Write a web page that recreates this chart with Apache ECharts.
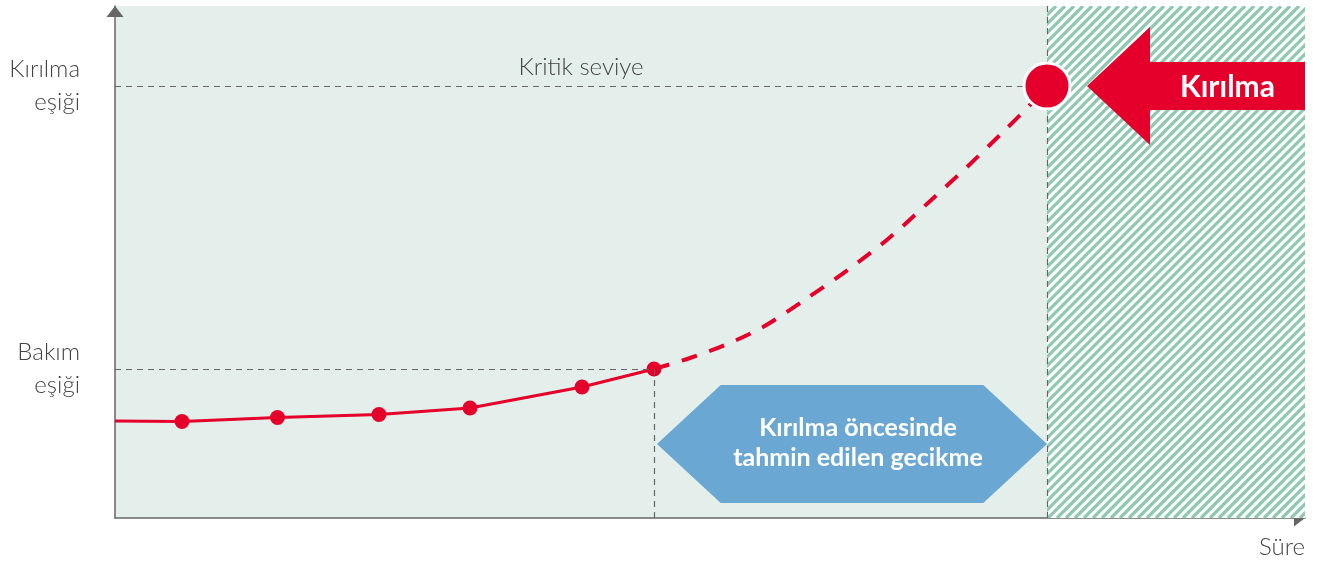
<!DOCTYPE html>
<html><head><meta charset="utf-8">
<script src="https://cdn.jsdelivr.net/npm/echarts@6/dist/echarts.min.js"></script>
<style>html,body{margin:0;padding:0;background:#fff}#c{width:1329px;height:562px}</style>
</head><body><div id="c"></div>
<script>
// ---- data ----
const xRange = [0, 119];
const yRange = [0, 102.4];
const measuredX = [0, 6.7, 16.25, 26.4, 35.5, 46.7, 53.9];
const measuredY = [19.4, 19.3, 20.1, 20.7, 22.0, 26.2, 29.8];
const forecastX = [53.9, 57.5, 61.0, 64.8, 69.1, 73.4, 77.3, 81.3, 85.2, 88.7, 91.5, 93.2];
const forecastY = [29.8, 32.0, 34.6, 38.2, 43.8, 49.8, 55.8, 63.0, 70.2, 77.0, 82.6, 86.4];
const thresholdValues = [29.8, 86.4];
const thresholdLabels = ['Bakım\neşiği', 'Kırılma\neşiği'];
const maintenanceTime = 53.9;
const failureTime = 93.2;
const criticalLabel = 'Kritik seviye';
const xAxisLabel = 'Süre';
const failureZone = [93.2, 119];                 // xStart, xEnd
const delayBox = [54.2, 93.2, 3, 26.6];          // xStart, xEnd, yBottom, yTop
const delayText = 'Kırılma öncesinde\ntahmin edilen gecikme';
const failureArrow = [97.2, 119, 86.4];          // tip x, end x, y
const failureText = 'Kırılma';

// ---- styles ----
const RED = '#e4002b';
const GRAY = '#666';
const TXT = '#444';
const LIGHT_FONT = 'Lato';
const LIGHT_SIZE = 24;

const chart = echarts.init(document.getElementById('c'));
const dashed = { color: GRAY, type: [6, 5], width: 1.2 };

chart.setOption({
  animation: false,
  grid: { left: 115, right: 24, top: 6, bottom: 44, show: true, backgroundColor: '#e4efeb', borderWidth: 0 },
  xAxis: {
    type: 'value', min: xRange[0], max: xRange[1],
    splitLine: { show: false }, axisTick: { show: false },
    axisLine: { show: true, lineStyle: { color: GRAY, width: 1.5 }, symbol: ['none', 'triangle'], symbolSize: [17, 11], symbolOffset: [0, -5.5] },
    axisLabel: { customValues: [xRange[1]], formatter: () => xAxisLabel, align: 'right', margin: 17,
      fontFamily: LIGHT_FONT, fontWeight: 300, fontSize: LIGHT_SIZE, color: TXT }
  },
  yAxis: {
    type: 'value', min: yRange[0], max: yRange[1],
    splitLine: { show: false }, axisTick: { show: false },
    axisLine: { show: true, lineStyle: { color: GRAY, width: 1.5 }, symbol: ['none', 'triangle'], symbolSize: [17, 11], symbolOffset: [0, -5.5] },
    axisLabel: { customValues: thresholdValues, formatter: v => thresholdLabels[thresholdValues.indexOf(v)],
      margin: 35, fontFamily: LIGHT_FONT, fontWeight: 300, fontSize: LIGHT_SIZE, lineHeight: 33, color: TXT, align: 'right' }
  },
  series: [
    { type: 'custom', z: 1, silent: true, data: [failureZone],
      renderItem: (params, api) => {
        const a = api.coord([api.value(0), yRange[1]]);
        const b = api.coord([api.value(1), yRange[0]]);
        const x0 = a[0], y0 = a[1], x1 = b[0], y1 = b[1], h = y1 - y0, step = 9;
        const kids = [{ type: 'rect', shape: { x: x0, y: y0, width: x1 - x0, height: h }, style: { fill: '#fff' } }];
        for (let s = x0 - h - step; s < x1 + step; s += step) {
          kids.push({ type: 'line', shape: { x1: s, y1: y1, x2: s + h, y2: y0 }, style: { stroke: '#8ec9b1', lineWidth: 3.3 } });
        }
        return { type: 'group', clipPath: { type: 'rect', shape: { x: x0, y: y0, width: x1 - x0, height: h } }, children: kids };
      } },
    { type: 'line', data: [], z: 2, silent: true,
      markLine: { silent: true, symbol: ['none', 'none'], lineStyle: dashed, label: { show: false },
        data: [
          [{ coord: [xRange[0], thresholdValues[1]], label: { show: true, position: 'middle', formatter: criticalLabel,
              fontFamily: LIGHT_FONT, fontWeight: 300, fontSize: LIGHT_SIZE, color: TXT, distance: 7 } },
           { coord: [failureTime, thresholdValues[1]] }],
          [{ coord: [xRange[0], thresholdValues[0]] }, { coord: [maintenanceTime, thresholdValues[0]] }],
          [{ coord: [maintenanceTime, thresholdValues[0]] }, { coord: [maintenanceTime, yRange[0]] }],
          [{ coord: [failureTime, yRange[0]] }, { coord: [failureTime, yRange[1]] }]
        ] } },
    { type: 'line', z: 3, silent: true,
      data: measuredX.map((x, i) => i === 0 ? { value: [x, measuredY[i]], symbol: 'none' } : [x, measuredY[i]]),
      symbol: 'circle', symbolSize: 15, showSymbol: true,
      lineStyle: { color: RED, width: 3.2 }, itemStyle: { color: RED } },
    { type: 'line', z: 3, silent: true, smooth: 0.3, symbol: 'none',
      data: forecastX.map((x, i) => [x, forecastY[i]]),
      lineStyle: { color: RED, width: 4, type: [16, 13] } },
    { type: 'custom', z: 4, silent: true, data: [delayBox],
      renderItem: (params, api) => {
        const a = api.coord([api.value(0), api.value(3)]);
        const b = api.coord([api.value(1), api.value(2)]);
        const l = a[0], r = b[0], t = a[1], bt = b[1], h = bt - t, m = (t + bt) / 2, k = h * 0.54;
        return { type: 'group', children: [
          { type: 'polygon', shape: { points: [[l, m], [l + k, t], [r - k, t], [r, m], [r - k, bt], [l + k, bt]] }, style: { fill: '#6aa8d3' } },
          { type: 'text', x: (l + r) / 2 + 6, y: m - 1, style: { text: delayText, fill: '#fff', font: 'bold 25px Lato',
              align: 'center', verticalAlign: 'middle', lineHeight: 30 } }
        ] };
      } },
    { type: 'scatter', z: 5, silent: true, data: [[failureTime, thresholdValues[1]]],
      symbolSize: 46, itemStyle: { color: RED, borderColor: '#fff', borderWidth: 3, opacity: 1 } },
    { type: 'custom', z: 6, silent: true, data: [failureArrow],
      renderItem: (params, api) => {
        const tip = api.coord([api.value(0), api.value(2)]);
        const end = api.coord([api.value(1), api.value(2)]);
        const y = tip[1], hx = tip[0] + 63, hh = 59, sh = 24;
        return { type: 'group', children: [
          { type: 'polygon', shape: { points: [[tip[0], y], [hx, y - hh], [hx, y - sh], [end[0], y - sh], [end[0], y + sh], [hx, y + sh], [hx, y + hh]] }, style: { fill: RED } },
          { type: 'text', x: (hx + end[0]) / 2, y: y + 1, style: { text: failureText, fill: '#fff', font: 'bold 30px Lato',
              align: 'center', verticalAlign: 'middle' } }
        ] };
      } }
  ]
});
</script></body></html>
